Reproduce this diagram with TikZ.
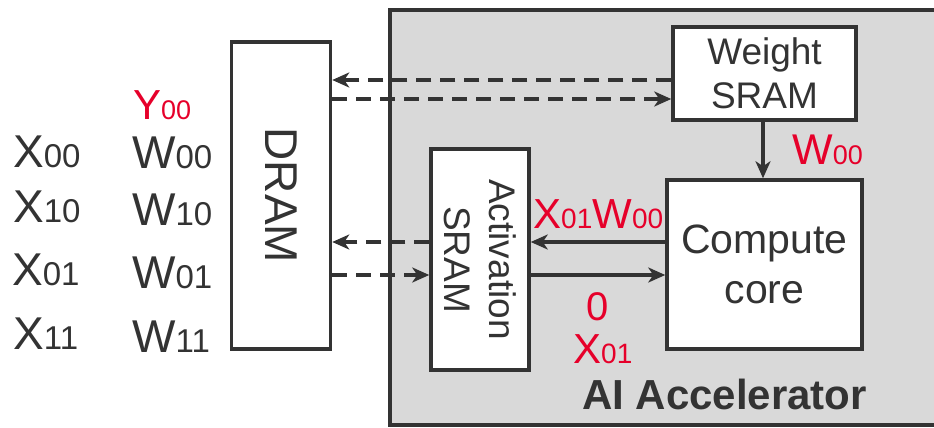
\documentclass[tikz,border=0pt]{standalone}
\usepackage{fontspec}
\setmainfont{Liberation Sans}
\usetikzlibrary{arrows.meta}
\definecolor{ink}{HTML}{333333}
\definecolor{redl}{HTML}{E6002A}
\definecolor{boxgray}{HTML}{D9D9D9}
\newcommand{\fs}[1]{\fontsize{#1}{#1}\selectfont}
\newcommand{\bigsub}[2]{{\fs{46}#1\fs{33}#2}}
\newcommand{\redsub}[2]{{\fs{42}#1\fs{28}#2}}
\tikzset{
  blk/.style={draw=ink, line width=3.5pt, fill=white, inner sep=0pt, text=ink, align=center},
  lbl/.style={inner sep=0pt, anchor=base west, text=ink},
  rlbl/.style={inner sep=0pt, anchor=base west, text=redl},
  tip/.style={-{Stealth[length=17pt,width=15pt,inset=5pt]}},
  dsh/.style={draw=ink, line width=3.5pt, dash pattern=on 15pt off 9pt, tip},
  sld/.style={draw=ink, line width=3.5pt, tip}
}
\begin{document}
\begin{tikzpicture}[x=1pt,y=-1pt]
\useasboundingbox (0,0) rectangle (934,428);
\node[draw=ink, line width=3.5pt, fill=boxgray, inner sep=0pt, minimum width=560pt, minimum height=415pt] (acc) at (670,217.5) {};
\node[blk, minimum width=99pt, minimum height=307pt] (dram) at (281,195.5) {};
\node[text=ink, rotate=-90, inner sep=0pt, font=\fs{46}] (dramt) at (281,195.5) {DRAM};
\node[blk, minimum width=183pt, minimum height=93pt, font=\fs{37}] (wsram) at (764.5,73.5) {Weight\\[7pt]SRAM};
\node[blk, minimum width=98pt, minimum height=221pt] (asram) at (480,259.5) {};
\node[text=ink, rotate=-90, inner sep=0pt, align=center, font=\fs{37}] (asramt) at (480,259.5) {Activation\\[8pt]SRAM};
\node[blk, minimum width=195pt, minimum height=169pt, font=\fs{41}] (core) at (764.5,264.5) {Compute\\[9pt]core};
\node[inner sep=0pt, anchor=base west, text=ink, font=\fs{42}\bfseries] (acct) at (582,409) {AI Accelerator};
% left labels
\node[lbl] (x00) at (13,167) {\bigsub{X}{00}};
\node[lbl] (x10) at (13,222) {\bigsub{X}{10}};
\node[lbl] (x01) at (12,285) {\bigsub{X}{01}};
\node[lbl] (x11) at (13,349) {\bigsub{X}{11}};
\node[lbl] (w00) at (132,168) {\bigsub{W}{00}};
\node[lbl] (w10) at (132,225) {\bigsub{W}{10}};
\node[lbl] (w01) at (132,288) {\bigsub{W}{01}};
\node[lbl] (w11) at (132,352) {\bigsub{W}{11}};
\node[rlbl] (y00) at (133,119) {{\fs{42}Y\fs{27}00}};
% red labels
\node[rlbl] (rw00) at (792,164) {{\fs{43}W\fs{27}00}};
\node[rlbl] (rxw) at (533,228) {\redsub{X}{01}\redsub{W}{00}};
\node[rlbl] (rz) at (586,320) {{\fs{40}0}};
\node[rlbl] (rx01) at (573,363) {\redsub{X}{01}};
% connectors
\draw[dsh] ([yshift=-6.5pt]wsram.west) -- ([yshift=-6.5pt]wsram.west -| dram.east);
\draw[dsh] ([yshift=-25.5pt]wsram.west -| dram.east) -- ([yshift=-25.5pt]wsram.west);
\draw[dsh] ([yshift=17.5pt]asram.west) -- ([yshift=17.5pt]asram.west -| dram.east);
\draw[dsh] ([yshift=-15.5pt]asram.west -| dram.east) -- ([yshift=-15.5pt]asram.west);
\draw[sld] ([yshift=17.5pt]asram.east -| core.west) -- ([yshift=17.5pt]asram.east);
\draw[sld] ([yshift=-15.5pt]asram.east) -- ([yshift=-15.5pt]asram.east -| core.west);
\draw[sld] (wsram.south -| 763,0) -- (core.north -| 763,0);
\end{tikzpicture}
\end{document}
